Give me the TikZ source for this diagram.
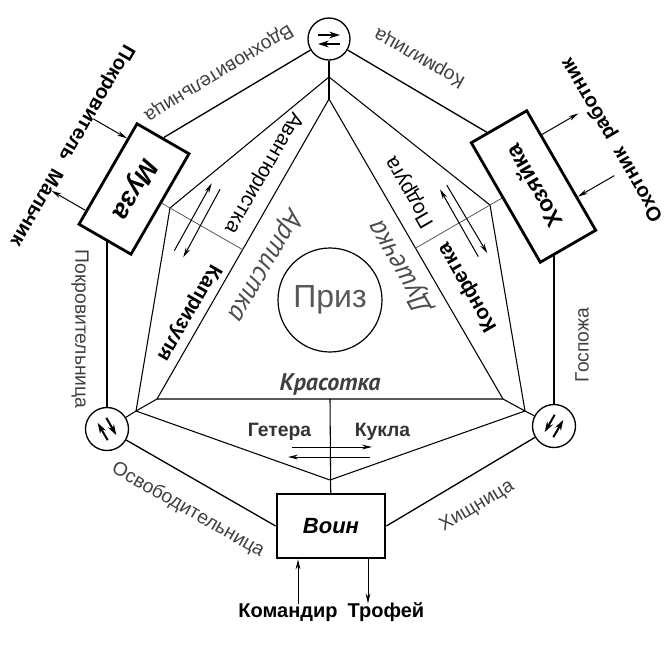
\documentclass[tikz,border=0pt]{standalone}
\usepackage{fontspec}
\setmainfont{Liberation Sans}
\newfontfamily\ptfont{PT Sans}
\usetikzlibrary{arrows.meta,calc,backgrounds}
\tikzset{
  box/.style={draw, line width=2.1pt, fill=white, inner sep=0pt},
  ring/.style={draw, circle, line width=1pt, fill=white, inner sep=0pt},
  outerln/.style={line width=1pt},
  innerln/.style={line width=0.8pt},
  crossln/.style={line width=0.6pt, black!65},
  edgelab/.style={inner sep=0pt, font=\fontsize{14.5}{16}\selectfont, text=black!75},
  boldlab/.style={inner sep=0pt, font=\bfseries\fontsize{15}{17}\selectfont},
  innerlab/.style={inner sep=0pt, font=\fontsize{15.5}{17}\selectfont},
  innerbold/.style={inner sep=0pt, font=\bfseries\fontsize{15.5}{17}\selectfont},
  bigit/.style={inner sep=0pt, font=\ptfont\itshape\fontsize{21}{23}\selectfont, text=black!70},
  midlab/.style={inner sep=0pt, font=\bfseries\fontsize{14.5}{16}\selectfont, text=black!80},
  arr/.style={line width=0.75pt, -{Stealth[length=7.5pt,width=3.6pt]}},
  circarr/.style={line width=1.5pt, -{Stealth[length=8pt,width=5pt]}},
}
\begin{document}
\begin{tikzpicture}[x=0.75pt,y=0.75pt]
\useasboundingbox (0,0) rectangle (672,-662);

% hexagon vertices
\node[ring, minimum size=31.5pt] (T) at (329,-39) {};
\node[ring, minimum size=32.25pt] (BLc) at (107,-429) {};
\node[ring, minimum size=32.25pt] (BRc) at (554,-426) {};
\node[ring, minimum size=78pt, line width=0.9pt, font=\fontsize{24}{26}\selectfont, text=black!65] (Prize) at (330,-300) {Приз};
\node[box, rotate=240, minimum width=87pt, minimum height=45pt, font=\bfseries\itshape\fontsize{20}{22}\selectfont] (Muza) at (134,-189) {Муза};
\node[box, rotate=120, minimum width=103.5pt, minimum height=48pt, font=\bfseries\fontsize{17}{19}\selectfont] (Hoz) at (533.5,-186.5) {Хозяйка};
\node[box, minimum width=81pt, minimum height=48pt, font=\bfseries\itshape\fontsize{16.5}{18}\selectfont] (Voin) at (331,-526) {Воин};

% junctions
\coordinate (P1) at (329,-77);
\coordinate (A) at (329,-99);
\coordinate (B) at (157,-399);
\coordinate (C) at (503,-399);
\coordinate (Mj) at (170,-208);
\coordinate (Hj) at (490,-205);
\coordinate (BLj) at (136,-411);
\coordinate (BRj) at (525,-411);
\coordinate (Bot) at (330,-480);
\coordinate (F1) at ($(A)!(Mj)!(B)$);
\coordinate (F2) at ($(A)!(Hj)!(C)$);
\coordinate (F3) at ($(B)!(Bot)!(C)$);
\coordinate (hatt) at ($(Hoz.north east)!0.3!(Hoz.south east)$);

\begin{scope}[on background layer]
  \draw[outerln] (T) -- (Muza.west);
  \draw[outerln] (T) -- (hatt);
  \draw[outerln] (BLc) -- (BLc |- Muza.center);
  \draw[outerln] (BRc) -- (BRc |- Hoz.center);
  \draw[outerln] (BLc) -- (Voin.west);
  \draw[outerln] (BRc) -- (Voin.east);
  \draw[innerln] (T) -- (P1) -- (A);
  \draw[innerln] (Mj) -- (P1) -- (Hj);
  \draw[innerln] (A) -- (B) -- (C) -- cycle;
  \draw[innerln] (Mj) -- (BLj) -- (B);
  \draw[innerln] (Hj) -- (BRj) -- (C);
  \draw[innerln] (BLj) -- (Bot) -- (BRj);
  \draw[innerln] (BLc) -- (BLj);
  \draw[innerln] (BRc) -- (BRj);
  \draw[crossln] (F1) -- ($(F1)!1.3!(Mj)$);
  \draw[crossln] (F2) -- ($(F2)!1.3!(Hj)$);
  \draw[innerln] (F3) -- (Voin.center);
\end{scope}

% arrows in the small circles
\draw[circarr] ($(T)+(-11,4)$) -- ++(22,0);
\draw[circarr] ($(T)+(11,-5)$) -- ++(-22,0);
\draw[circarr] ($(BLc)+(210:5)+(-60:10)$) -- ++(120:20);
\draw[circarr] ($(BLc)+(30:5)+(120:10)$) -- ++(-60:20);
\draw[circarr] ($(BRc)+(150:5)+(60:10)$) -- ++(240:20);
\draw[circarr] ($(BRc)+(-30:5)+(240:10)$) -- ++(60:20);

% exchange arrows
\draw[arr] (174.3,-250.7) -- (211.7,-183.3);
\draw[arr] (220,-189.3) -- (183.3,-257.3);
\draw[arr] (478.3,-256.7) -- (440,-189.3);
\draw[arr] (446.7,-185) -- (487.3,-253.3);
\draw[arr] (292,-447) -- (372,-447);
\draw[arr] (370,-457) -- (288,-457);

% outer arrows
\coordinate (ma1) at ($(Muza.south west)!0.16!(Muza.south east)$);
\coordinate (ma2) at ($(Muza.south west)!0.86!(Muza.south east)$);
\draw[arr] ($(ma1)+(150:39)$) -- (ma1);
\draw[arr] (ma2) -- ($(ma2)+(150:39)$);
\coordinate (ha1) at ($(Hoz.south east)!0.21!(Hoz.south west)$);
\coordinate (ha2) at ($(Hoz.south east)!0.72!(Hoz.south west)$);
\draw[arr] (ha1) -- ($(ha1)+(30:42)$);
\draw[arr] ($(ha2)+(30:42)$) -- (ha2);
\draw[arr] ($(Voin.south)+(-33,-45)$) -- ($(Voin.south)+(-33,0)$);
\draw[arr] ($(Voin.south)+(37,0)$) -- ($(Voin.south)+(37,-44)$);

% labels
\node[edgelab, rotate=211.4] (l1) at (218.5,-72.5) {Вдохновительница};
\node[edgelab, rotate=150.6] (l2) at (420,-57.5) {Кормилица};
\node[edgelab, rotate=90] (l3) at (582,-345) {Госпожа};
\node[edgelab, rotate=30.8] (l4) at (477,-506) {Хищница};
\node[edgelab, rotate=-29.7] (l5) at (188,-510) {Освободительница};
\node[edgelab, rotate=-90] (l6) at (80,-329) {Покровительница};
\node[boldlab, rotate=240] (l7) at (71.5,-145) {Покровитель\hspace{0.6em}Мальчик};
\node[boldlab, rotate=120] (l8) at (612.5,-139.5) {Охотник\hspace{0.6em}работник};
\node[innerlab, rotate=240] (l9) at (263,-172.5) {Авантюристка};
\node[innerbold, rotate=240] (l10) at (188.5,-312.5) {Капризуля};
\node[bigit, rotate=240] (l11) at (265,-265) {Артистка};
\node[innerlab, rotate=120] (l12) at (410,-192) {Подруга};
\node[innerbold, rotate=120] (l13) at (467.7,-287.4) {Конфетка};
\node[bigit, rotate=120] (l14) at (401,-266.7) {Душечка};
\node[inner sep=0pt, font=\ptfont\bfseries\itshape\fontsize{18}{20}\selectfont, text=black!75] (l15) at (330,-384) {Красотка};
\node[midlab] (l16) at (279.5,-432) {Гетера};
\node[midlab] (l17) at (382.5,-432) {Кукла};
\node[boldlab] (l18) at (288,-613) {Командир};
\node[boldlab] (l19) at (386,-612) {Трофей};
\end{tikzpicture}
\end{document}
